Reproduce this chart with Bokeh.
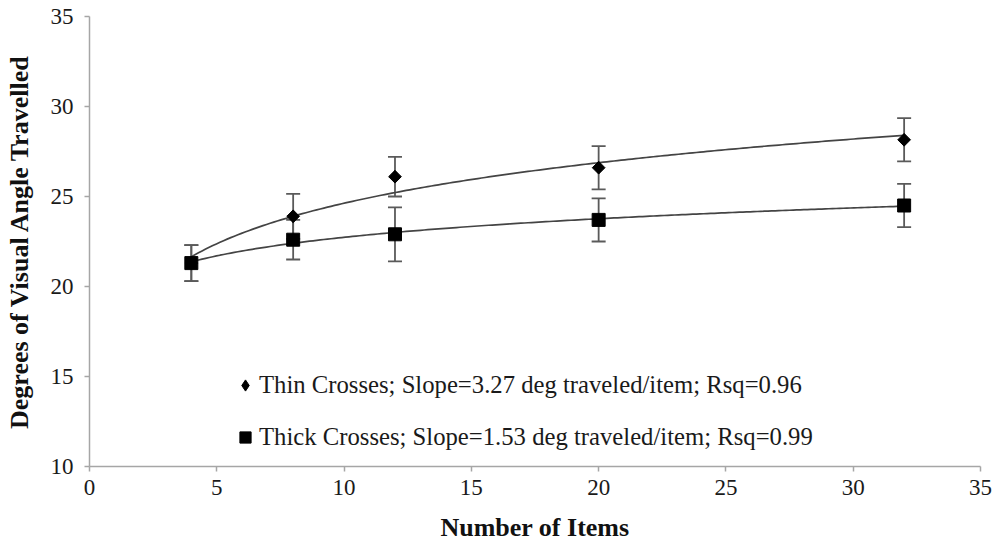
import numpy as np
from bokeh.plotting import figure
from bokeh.models import (ColumnDataSource, Whisker, TeeHead, Legend, LegendItem,
                          FixedTicker, Range1d)
from bokeh.embed import file_html
from bokeh.resources import INLINE

# ---- data ----
items = [4, 8, 12, 20, 32]
thin_mean = [21.3, 23.9, 26.1, 26.6, 28.15]
thin_err = [1.0, 1.25, 1.1, 1.2, 1.2]
thick_mean = [21.3, 22.6, 22.9, 23.7, 24.5]
thick_err = [1.0, 1.1, 1.5, 1.2, 1.2]
x_ticks = [0, 5, 10, 15, 20, 25, 30, 35]
y_ticks = [10, 15, 20, 25, 30, 35]
legend_labels = ["Thin Crosses; Slope=3.27 deg traveled/item; Rsq=0.96",
                 "Thick Crosses; Slope=1.53 deg traveled/item; Rsq=0.99"]
x_title = "Number of Items"
y_title = "Degrees of Visual Angle Travelled"

FONT = "Liberation Serif"
AXIS_COL = "#a6a6a6"

p = figure(width=1000, height=544, x_range=Range1d(0, 35), y_range=Range1d(10, 35),
           output_backend="svg", toolbar_location=None,
           min_border_left=89, min_border_right=20, min_border_top=16, min_border_bottom=78)
p.outline_line_color = None
p.xgrid.visible = False
p.ygrid.visible = False

for ax, ticks in ((p.xaxis[0], x_ticks), (p.yaxis[0], y_ticks)):
    ax.ticker = FixedTicker(ticks=ticks)
    ax.axis_line_color = AXIS_COL
    ax.axis_line_width = 1.5
    ax.major_tick_line_color = AXIS_COL
    ax.major_tick_line_width = 1.5
    ax.major_tick_out = 5
    ax.major_tick_in = 0
    ax.minor_tick_line_color = None
    ax.major_label_text_font = FONT
    ax.major_label_text_font_size = "23px"
    ax.major_label_text_color = "#1a1a1a"
    ax.axis_label_text_font = FONT
    ax.axis_label_text_font_style = "bold"
    ax.axis_label_text_font_size = "26px"
    ax.axis_label_text_color = "#111111"

p.xaxis.axis_label = x_title
p.yaxis.axis_label = y_title
p.xaxis.major_label_standoff = 8
p.xaxis.axis_label_standoff = 15
p.yaxis.major_label_standoff = 11
p.yaxis.axis_label_standoff = 14

# trend lines: logarithmic least-squares fits of the data
xs = np.linspace(min(items), max(items), 200)
lx = np.log(np.array(items, dtype=float))
for means in (thin_mean, thick_mean):
    a, b = np.polyfit(lx, np.array(means), 1)
    p.line(xs, a * np.log(xs) + b, line_color="#444444", line_width=1.7)

# error bars
for means, errs in ((thin_mean, thin_err), (thick_mean, thick_err)):
    src = ColumnDataSource(dict(x=items,
                                lo=[m - e for m, e in zip(means, errs)],
                                hi=[m + e for m, e in zip(means, errs)]))
    w = Whisker(source=src, base="x", lower="lo", upper="hi",
                line_color="#5a5a5a", line_width=1.8,
                upper_head=TeeHead(size=14, line_color="#5a5a5a", line_width=1.8),
                lower_head=TeeHead(size=14, line_color="#5a5a5a", line_width=1.8))
    p.add_layout(w)

# diamond glyph (used for the legend), covered by the wider rotated square
r_thin_leg = p.scatter(items, thin_mean, marker="diamond", size=12,
                       fill_color="black", line_color="black")
r_thin = p.scatter(items, thin_mean, marker="square", angle=np.pi / 4, size=9,
                   fill_color="black", line_color="black")
r_thick = p.scatter(items, thick_mean, marker="square", size=13,
                    fill_color="black", line_color="black")

leg = Legend(items=[LegendItem(label=legend_labels[0], renderers=[r_thin_leg]),
                    LegendItem(label=legend_labels[1], renderers=[r_thick])],
             location=(142, 15), orientation="vertical",
             background_fill_alpha=0, border_line_color=None,
             padding=0, margin=0, spacing=24, glyph_width=28, glyph_height=28,
             label_standoff=0, label_text_font=FONT, label_text_font_size="24.7px",
             label_text_color="#1a1a1a", label_height=28)
p.add_layout(leg)

open("out.html", "w").write(file_html(p, INLINE))
